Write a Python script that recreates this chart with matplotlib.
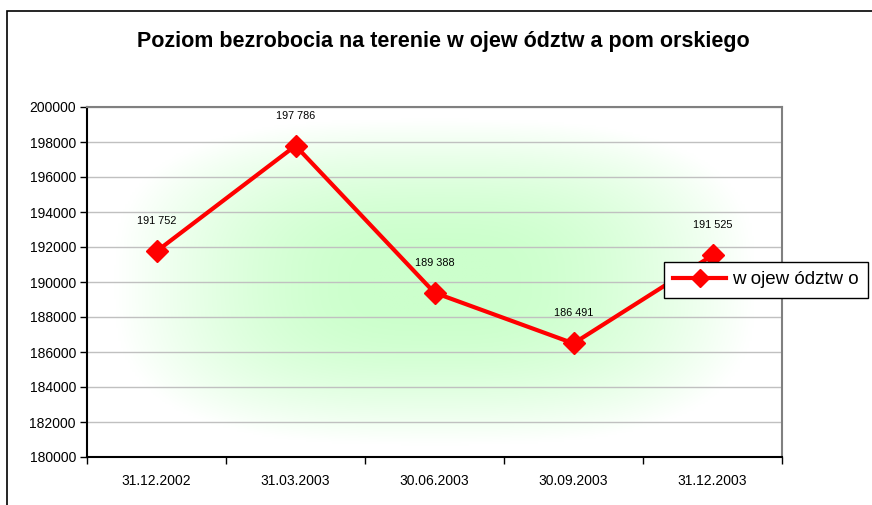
import numpy as np
import matplotlib
matplotlib.use('Agg')
import matplotlib.pyplot as plt
from matplotlib.patches import Rectangle

plt.rcParams['font.family'] = ['Liberation Sans', 'DejaVu Sans']

dates = ['31.12.2002', '31.03.2003', '30.06.2003', '30.09.2003', '31.12.2003']
unemployed = [191752, 197786, 189388, 186491, 191525]
value_labels = ['191 752', '197 786', '189 388', '186 491', '191 525']
series_name = 'w ojew ództw o'
title = 'Poziom bezrobocia na terenie w ojew ództw a pom orskiego'
y_ticks = list(range(180000, 200001, 2000))

W, H = 872, 505
fig = plt.figure(figsize=(W / 100, H / 100), dpi=100)

# outer chart frame (runs off the right and bottom edge)
fig.patches.append(Rectangle((7 / W, -0.1), 2.0, (H - 11) / H + 0.1, transform=fig.transFigure,
                             fill=False, edgecolor='black', linewidth=1.2))

ax = fig.add_axes([87 / W, (H - 457) / H, 695 / W, 350 / H])
n = len(dates)
ax.set_xlim(0, n)
ax.set_ylim(180000, 200000)

# green gradient from the centre of the plot area (rectangular-ish)
gx = np.linspace(-1, 1, 300)
gy = np.linspace(-1, 1, 200)
X, Y = np.meshgrid(gx, gy)
p = 3.0
d = (np.abs(X / 0.92) ** p + np.abs(Y / 0.93) ** p) ** (1 / p)
t = np.clip((d - 0.2) / 0.8, 0, 1) ** 1.6
green = np.array([0.80, 1.0, 0.80])
img = green[None, None, :] * (1 - t[..., None]) + np.ones(3)[None, None, :] * t[..., None]
ax.imshow(img, extent=[0, n, 180000, 200000], aspect='auto', zorder=0, origin='lower')

ax.set_yticks(y_ticks)
ax.set_yticklabels([str(v) for v in y_ticks], fontsize=10)
ax.yaxis.grid(True, color='#c0c0c0', linewidth=1)
ax.set_axisbelow(True)

ax.set_xticks(np.arange(n + 1))
ax.set_xticklabels([])
ax.set_xticks(np.arange(n) + 0.5, minor=True)
ax.set_xticklabels(dates, minor=True, fontsize=10)
ax.tick_params(axis='x', which='minor', length=0, pad=12)
ax.tick_params(axis='x', which='major', length=5, direction='out', width=1)
ax.tick_params(axis='y', length=5, direction='out', width=1, pad=3)

for side in ['left', 'bottom']:
    ax.spines[side].set_color('black')
    ax.spines[side].set_linewidth(1.5)
for side in ['top', 'right']:
    ax.spines[side].set_color('#808080')
    ax.spines[side].set_linewidth(1.5)

xs = np.arange(n) + 0.5
ax.plot(xs, unemployed, color='#ff0000', linewidth=3, marker='D', markersize=11,
        label=series_name, zorder=3, clip_on=False)
for x, y, lab in zip(xs, unemployed, value_labels):
    ax.annotate(lab, (x, y), xytext=(0, 18), textcoords='offset points',
                ha='center', va='bottom', fontsize=7.8)

fig.text(443 / W, 1 - 42 / H, title, ha='center', va='center', fontsize=15.5, fontweight='bold')

leg = fig.legend(loc='upper left', bbox_to_anchor=(664 / W, 1 - 262 / H), fontsize=13.5,
                 frameon=True, fancybox=False, edgecolor='black', borderpad=0.5,
                 handlelength=2.8, handletextpad=0.35, borderaxespad=0, markerscale=0.85)
leg.get_frame().set_linewidth(1)
leg.get_frame().set_facecolor('white')
leg.get_frame().set_alpha(1)

fig.savefig('out.png', dpi=100)
